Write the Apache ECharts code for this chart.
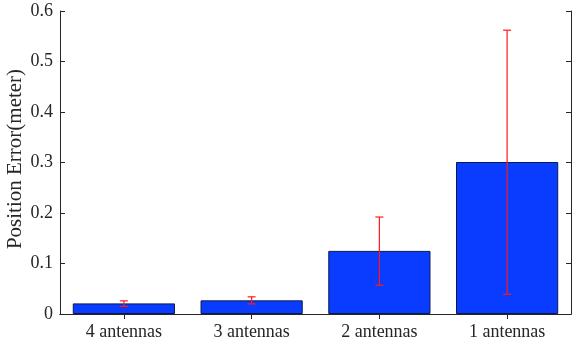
<!DOCTYPE html>
<html>
<head>
<meta charset="utf-8">
<script src="https://cdn.jsdelivr.net/npm/echarts@6/dist/echarts.min.js"></script>
<style>html,body{margin:0;padding:0;background:#fff;}#c{width:572px;height:346px;}</style>
</head>
<body>
<div id="c"></div>
<script>
var categories = ['4 antennas', '3 antennas', '2 antennas', '1 antennas'];
var meanValues = [0.021, 0.027, 0.125, 0.301];
var errLow = [0.015, 0.020, 0.057, 0.039];
var errHigh = [0.026, 0.034, 0.192, 0.562];
var yTicks = [0, 0.1, 0.2, 0.3, 0.4, 0.5, 0.6];

var axisColor = '#262626';
var font = 'Liberation Serif';
var chart = echarts.init(document.getElementById('c'), null, {renderer: 'canvas'});
var errData = categories.map(function (c, i) { return [i, errLow[i], errHigh[i]]; });

chart.setOption({
  animation: false,
  grid: {left: 60, right: 1, top: 11, bottom: 32, containLabel: false, outerBoundsMode: 'none'},
  xAxis: [{
    type: 'category', data: categories, position: 'bottom',
    axisLine: {lineStyle: {color: axisColor, width: 1}},
    axisTick: {show: true, inside: true, alignWithLabel: true, length: 5, lineStyle: {color: axisColor}},
    axisLabel: {color: axisColor, fontFamily: font, fontSize: 18, margin: 9},
    splitLine: {show: false}
  }, {
    type: 'category', data: categories, position: 'top',
    axisLine: {show: true, lineStyle: {color: axisColor, width: 1}},
    axisTick: {show: true, inside: true, alignWithLabel: true, length: 5, lineStyle: {color: axisColor}},
    axisLabel: {show: false}, splitLine: {show: false}
  }],
  yAxis: [{
    type: 'value', min: 0, max: 0.6, interval: 0.1, position: 'left',
    name: 'Position Error(meter)', nameLocation: 'middle', nameGap: 34, nameMoveOverlap: false,
    nameTextStyle: {color: axisColor, fontFamily: font, fontSize: 21, padding: [0, 0, 0, 7]},
    axisLine: {show: true, lineStyle: {color: axisColor, width: 1}},
    axisTick: {show: true, inside: true, length: 5, lineStyle: {color: axisColor}},
    axisLabel: {color: axisColor, fontFamily: font, fontSize: 18, margin: 7,
      formatter: function (v) { var r = Math.round(v * 10) / 10; return yTicks.indexOf(r) >= 0 ? String(r) : ''; }},
    splitLine: {show: false}
  }, {
    type: 'value', min: 0, max: 0.6, interval: 0.1, position: 'right',
    axisLine: {show: true, lineStyle: {color: axisColor, width: 1}},
    axisTick: {show: true, inside: true, length: 5, lineStyle: {color: axisColor}},
    axisLabel: {show: false}, splitLine: {show: false}
  }],
  series: [{
    type: 'bar', data: meanValues, barWidth: '80%', xAxisIndex: 0, yAxisIndex: 0,
    itemStyle: {color: '#0a3cff', borderColor: '#0a1a50', borderWidth: 1}
  }, {
    type: 'custom', xAxisIndex: 0, yAxisIndex: 0, data: errData, z: 5,
    renderItem: function (params, api) {
      var x = api.value(0);
      var lo = api.coord([x, api.value(1)]);
      var hi = api.coord([x, api.value(2)]);
      var hw = 4;
      var st = {stroke: '#ff1a1a', lineWidth: 1.2};
      return {type: 'group', children: [
        {type: 'line', shape: {x1: lo[0], y1: hi[1], x2: lo[0], y2: lo[1]}, style: st},
        {type: 'line', shape: {x1: lo[0] - hw, y1: hi[1], x2: lo[0] + hw, y2: hi[1]}, style: st},
        {type: 'line', shape: {x1: lo[0] - hw, y1: lo[1], x2: lo[0] + hw, y2: lo[1]}, style: st}
      ]};
    }
  }]
});
</script>
</body>
</html>
